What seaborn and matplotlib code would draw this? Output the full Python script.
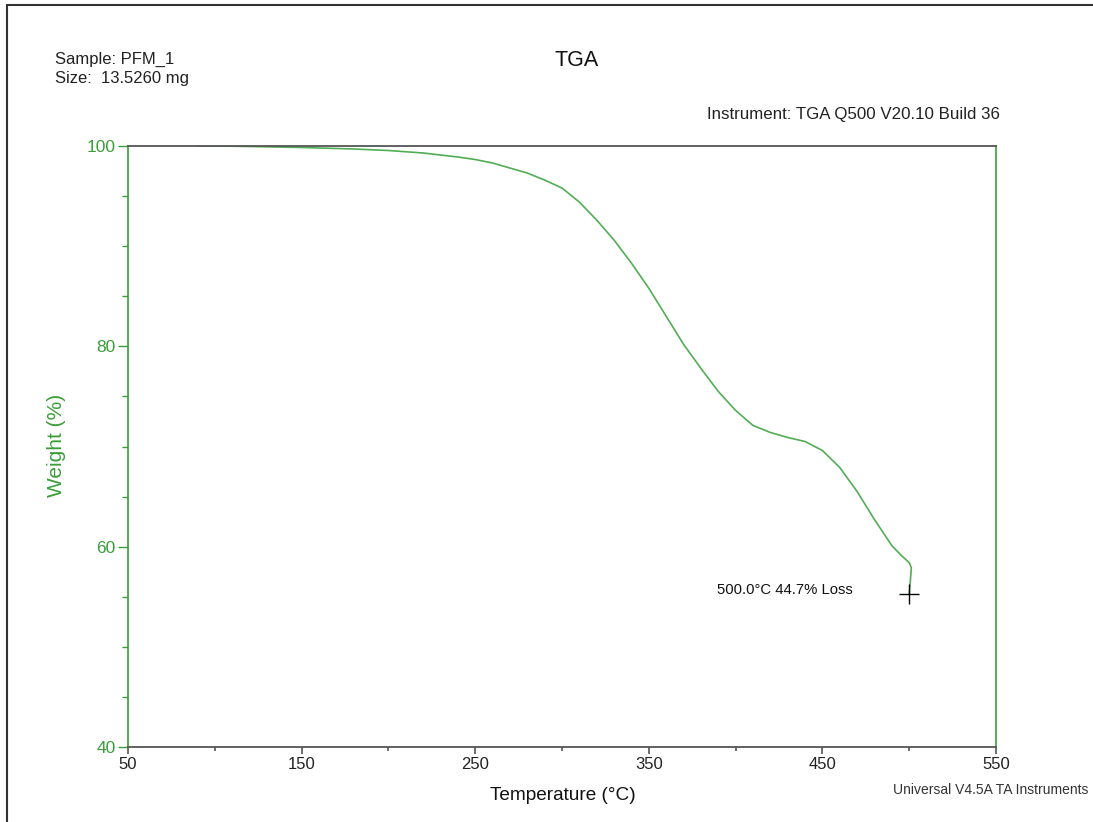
import matplotlib
matplotlib.use("Agg")
import matplotlib.pyplot as plt
import matplotlib.patches as mpatches
import seaborn as sns
import pandas as pd

# -- data
temperature = [90, 100, 120, 150, 180, 200, 220, 240, 250, 260, 270, 280, 290,
               300, 310, 320, 330, 340, 350, 360, 370, 380, 390, 400, 410, 420,
               430, 440, 450, 460, 470, 480, 490, 495, 500, 501.2, 500.6, 500.0]
weight = [100.0, 100.0, 99.95, 99.85, 99.7, 99.55, 99.3, 98.9, 98.65, 98.3,
          97.8, 97.3, 96.6, 95.8, 94.4, 92.6, 90.6, 88.3, 85.8, 83.0, 80.2,
          77.8, 75.5, 73.6, 72.1, 71.4, 70.9, 70.5, 69.6, 67.9, 65.5, 62.7,
          60.1, 59.2, 58.4, 57.9, 56.5, 55.3]
end_temp = 500.0
end_weight = 55.3
end_label = "500.0°C 44.7% Loss"

x_major = [50, 150, 250, 350, 450, 550]
x_minor = [100, 200, 300, 400, 500]
y_major = [40, 60, 80, 100]
y_minor = [45, 50, 55, 65, 70, 75, 85, 90, 95]

green = "#3a9e3a"
curve_green = "#52ad55"
gray = "#555555"

df = pd.DataFrame({"Temperature": temperature, "Weight": weight})

sns.set_style("ticks")
plt.rcParams["font.family"] = ["Liberation Sans", "DejaVu Sans"]

fig = plt.figure(figsize=(10.93, 8.22), dpi=100)
ax = fig.add_axes([0.1171, 0.0912, 0.7942, 0.7312])

sns.lineplot(data=df, x="Temperature", y="Weight", sort=False, estimator=None,
             color=curve_green, linewidth=1.2, ax=ax)
ax.plot([end_temp], [end_weight], marker="+", color="black", markersize=14,
        markeredgewidth=1.0)
ax.text(389, 55.7, end_label, fontsize=10.7, ha="left", va="center", color="#111111")

ax.set_xlim(50, 550)
ax.set_ylim(40, 100)
ax.set_xticks(x_major)
ax.set_xticks(x_minor, minor=True)
ax.set_yticks(y_major)
ax.set_yticks(y_minor, minor=True)

ax.tick_params(axis="x", which="major", length=5, width=1.2, color=gray,
               labelsize=12, pad=2, labelcolor="#222222", direction="out")
ax.tick_params(axis="x", which="minor", length=3, width=1.2, color=gray, direction="out")
ax.tick_params(axis="y", which="major", length=7, width=1.0, color=green,
               labelsize=12.5, pad=2, labelcolor=green, direction="out")
ax.tick_params(axis="y", which="minor", length=4, width=1.0, color=green, direction="out")

for side in ["left", "right"]:
    ax.spines[side].set_color(green)
    ax.spines[side].set_linewidth(1.2)
    ax.spines[side].set_visible(True)
for side in ["top", "bottom"]:
    ax.spines[side].set_color(gray)
    ax.spines[side].set_linewidth(1.3)
    ax.spines[side].set_visible(True)

ax.set_xlabel("")
ax.set_ylabel("")
fig.text(563 / 1093, 1 - 795 / 822, "Temperature (°C)", fontsize=13.7,
         ha="center", va="center", color="#111111")
fig.text(57 / 1093, 1 - 445 / 822, "Weight (%)", fontsize=15, rotation=90,
         ha="center", va="center", color=green)

fig.text(577 / 1093, 1 - 61 / 822, "TGA", fontsize=15.5, ha="center", va="center",
         color="#111111")
fig.text(55 / 1093, 1 - 59 / 822, "Sample: PFM_1", fontsize=12, ha="left",
         va="center", color="#222222")
fig.text(55 / 1093, 1 - 78 / 822, "Size:  13.5260 mg", fontsize=12, ha="left",
         va="center", color="#222222")
fig.text(1000 / 1093, 1 - 114 / 822, "Instrument: TGA Q500 V20.10 Build 36",
         fontsize=12.2, ha="right", va="center", color="#222222")
fig.text(1088 / 1093, 1 - 790 / 822, "Universal V4.5A TA Instruments",
         fontsize=10, ha="right", va="center", color="#333333")

# page frame, open on the right and bottom
fig.patches.append(mpatches.Rectangle((7 / 1093, -0.1), 1.2, (822 - 5) / 822 + 0.1,
                                      transform=fig.transFigure, fill=False,
                                      edgecolor="#333333", linewidth=1.5))

fig.savefig("out.png", dpi=100)
